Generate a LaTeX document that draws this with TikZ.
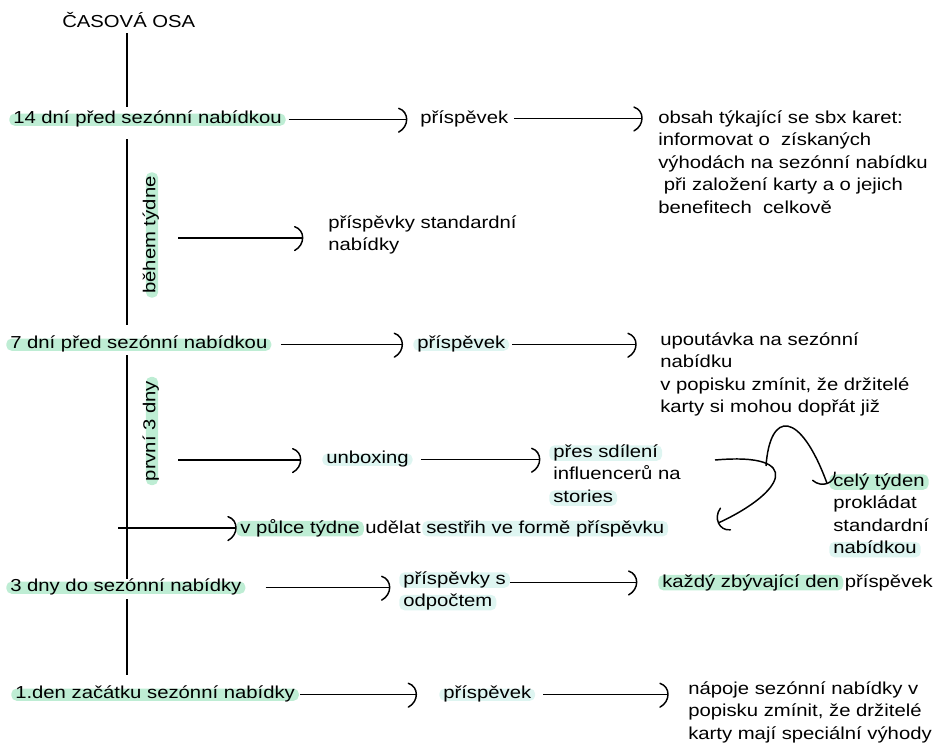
\documentclass[tikz,border=0pt]{standalone}
\usepackage{fontspec}
\setmainfont{Liberation Sans}[FakeStretch=1.17]
\usetikzlibrary{arrows.meta}
\definecolor{hlgreen}{RGB}{190,237,212}
\definecolor{hlpale}{RGB}{222,245,241}
\newcommand\hlg[1]{\kern-3pt\relax\tikz[baseline=0pt]\node[anchor=base,inner xsep=3pt,inner ysep=.5pt,fill=hlgreen,rounded corners=4pt,text height=1.25ex,text depth=.3ex]{#1};\kern-3pt\relax}
\newcommand\hlp[1]{\kern-3pt\relax\tikz[baseline=0pt]\node[anchor=base,inner xsep=3pt,inner ysep=.5pt,fill=hlpale,rounded corners=4pt,text height=1.25ex,text depth=.3ex]{#1};\kern-3pt\relax}
% hand drawn ")" tip
\pgfdeclarearrow{
	name=Bow,
	parameters={\the\pgfarrowlength,\the\pgfarrowwidth},
	setup code={
		\pgfarrowssettipend{0pt}
		\pgfarrowssetlineend{-0.3\pgfarrowlength}
		\pgfarrowssetbackend{-\pgfarrowlength}
		\pgfarrowshullpoint{0pt}{0pt}
		\pgfarrowshullpoint{-\pgfarrowlength}{.5\pgfarrowwidth}
		\pgfarrowshullpoint{-\pgfarrowlength}{-.5\pgfarrowwidth}
		\pgfarrowssavethe\pgfarrowlength
		\pgfarrowssavethe\pgfarrowwidth
	},
	drawing code={
		\pgfsetdash{}{0pt}
		\pgfsetroundcap
		\pgfpathmoveto{\pgfpoint{-\pgfarrowlength}{.5\pgfarrowwidth}}
		\pgfpathcurveto{\pgfpoint{0pt}{.35\pgfarrowwidth}}{\pgfpoint{0pt}{-.3\pgfarrowwidth}}{\pgfpoint{-\pgfarrowlength}{-.55\pgfarrowwidth}}
		\pgfusepathqstroke
	},
	defaults={length=9pt,width=17pt}
}

\begin{document}
\begin{tikzpicture}[x=0.75pt,y=-0.75pt,
		lbl/.style={anchor=base west,inner sep=0pt,align=left,font=\fontsize{13pt}{16.9pt}\selectfont},
		hlgbox/.style={fill=hlgreen,rounded corners=4pt,inner xsep=3pt,inner ysep=.5pt,text height=1.25ex,text depth=.3ex},
		hlpbox/.style={fill=hlpale,rounded corners=4pt,inner xsep=3pt,inner ysep=.5pt,text height=1.25ex,text depth=.3ex},
		conn/.style={line width=1.1pt,-{Bow[length=8pt,width=17pt]},shorten <=2pt,shorten >=8pt},
		axisline/.style={line width=1.1pt}]
		%%%%% START %%%%%
		\useasboundingbox (0,0) rectangle (939,744);
		
		\node[lbl] (osa) at (62,27) {ČASOVÁ OSA};
		\coordinate (axis) at (127,0);
		
		% 14 dni
		\node[lbl,hlgbox] (d14) at (9,123) {14 dní před sezónní nabídkou};
		\node[lbl] (p14) at (420,123) {příspěvek};
		\node[lbl,anchor=north west] (obs) at (658,110) {obsah týkající se sbx karet:\\informovat o\ \ získaných\\výhodách na sezónní nabídku\\\ při založení karty a o jejich\\benefitech\ \ celkově};
		\draw[conn] (d14.east) -- (d14.east -| p14.west);
		\draw[conn,shorten <=4pt,shorten >=10pt] (p14.east) -- (p14.east -| obs.west);
		
		\node[lbl,hlgbox,rotate=90,anchor=center] (btyd) at (152,235) {během týdne};
		\coordinate (s1) at (178,238);
		\node[lbl,anchor=north west] (pstd) at (328,215) {příspěvky standardní\\nabídky};
		\draw[conn,shorten <=0pt,shorten >=17pt] (s1) -- (s1 -| pstd.west);
		
		% 7 dni
		\node[lbl,hlgbox] (d7) at (6,348) {7 dní před sezónní nabídkou};
		\node[lbl,hlpbox] (p7) at (413,348) {příspěvek};
		\node[lbl,anchor=north west] (upo) at (660,332) {upoutávka na sezónní\\nabídku\\v popisku zmínit, že držitelé\\karty si mohou dopřát již};
		\draw[conn,shorten <=7pt,shorten >=6pt] (d7.east) -- (d7.east -| p7.west);
		\draw[conn,shorten >=16pt] (p7.east) -- (p7.east -| upo.west);
		
		\node[lbl,hlgbox,rotate=90,anchor=center] (prv) at (152,431) {první 3 dny};
		\coordinate (s2) at (178,460);
		\node[lbl,hlpbox] (unb) at (322,463) {unboxing};
		\node[lbl,anchor=north west] (psd) at (553,445) {\hlp{přes sdílení}\\influencerů na\\\hlp{stories}};
		\draw[conn,shorten <=0pt,shorten >=14pt] (s2) -- (s2 -| unb.west);
		\draw[conn,shorten <=6pt,shorten >=8pt] (unb.east) -- (unb.east -| psd.west);
		
		\coordinate (s3) at (118,528);
		\node[lbl] (vp) at (240,533) {\hlg{v půlce týdne} udělat \hlp{sestřih ve formě příspěvku}};
		\draw[conn,shorten <=0pt,shorten >=1pt] (s3) -- (s3 -| vp.west);
		
		\node[lbl,anchor=north west] (cely) at (833,474) {\hlg{celý týden}\\prokládat\\standardní\\\hlp{nabídkou}};
		
		% hand drawn curves
		\coordinate (cv1) at (715,460);
		\coordinate (cv1e) at (716,524);
		\coordinate (fork) at (766,466);
		\coordinate (cv2e) at (828,486);
		\draw[conn,shorten <=0pt,shorten >=0pt] (cv1) .. controls (805,452) and (785,492) .. (cv1e);
		\draw[conn,shorten <=0pt,shorten >=0pt] (fork) .. controls (770,410) and (800,410) .. (cv2e);
		
		% 3 dny
		\node[lbl,hlgbox] (d3) at (6,591) {3 dny do sezónní nabídky};
		\node[lbl,anchor=north west] (pods) at (403,572) {\hlp{příspěvky s}\\\hlp{odpočtem}};
		\node[lbl] (kzd) at (662,587) {\hlg{každý zbývající den} příspěvek};
		\draw[conn,shorten <=15pt,shorten >=8pt] (d3.east) -- (d3.east -| pods.west);
		\draw[conn,shorten <=3pt,shorten >=17pt] (pods.east |- kzd.west) -- (kzd.west);
		
		% 1. den
		\node[lbl,hlgbox] (d1) at (11,698) {1.den začátku sezónní nabídky};
		\node[lbl,hlpbox] (p1) at (439,698) {příspěvek};
		\node[lbl,anchor=north west] (nap) at (688,681) {nápoje sezónní nabídky v\\popisku zmínit, že držitelé\\karty mají speciální výhody};
		\draw[conn,shorten <=1pt,shorten >=15pt] (d1.east) -- (d1.east -| p1.west);
		\draw[conn,shorten <=6pt,shorten >=13pt] (p1.east) -- (p1.east -| nap.west);
		
		% time axis
		\draw[axisline,shorten <=4.5pt,shorten >=4.5pt] (axis |- osa.south) -- (axis |- d14.north);
		\draw[axisline,shorten <=10pt,shorten >=10pt] (axis |- d14.south) -- (axis |- d7.north);
		\draw[axisline,shorten <=3pt,shorten >=1.5pt] (axis |- d7.south) -- (axis |- d3.north);
		\draw[axisline,shorten <=4pt,shorten >=10pt] (axis |- d3.south) -- (axis |- d1.north);
		%%%%% END %%%%%
	\end{tikzpicture}
\end{document}
